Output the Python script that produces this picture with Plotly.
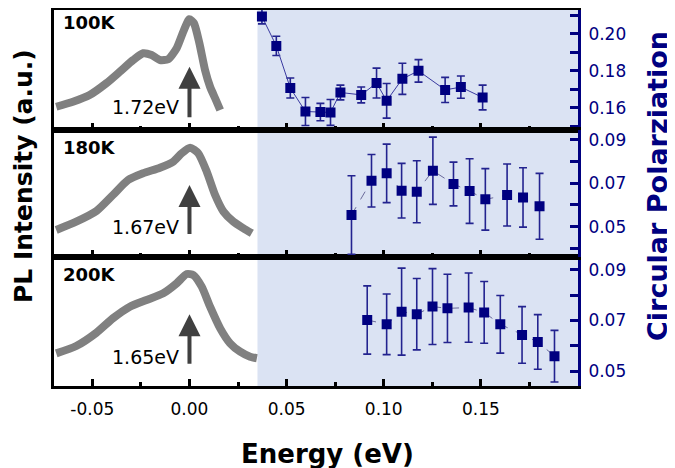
import plotly.graph_objects as go

# ---------------- data ----------------
X_TICKS = [-0.05, 0.00, 0.05, 0.10, 0.15]
X_TICK_LABELS = ["-0.05", "0.00", "0.05", "0.10", "0.15"]
X_MINOR = [-0.025, 0.025, 0.075, 0.125, 0.175]

# PL spectra (normalised intensity)
PL100_E = [-0.0686, -0.0600, -0.0514, -0.0428, -0.0359, -0.0290, -0.0239, -0.0195, -0.0152, -0.0110,
           -0.0066, -0.0032, -0.0001, 0.0023, 0.0051, 0.0080, 0.0106, 0.0132, 0.0158]
PL100_I = [0.186, 0.226, 0.280, 0.374, 0.466, 0.560, 0.614, 0.600, 0.560, 0.566,
           0.654, 0.786, 0.886, 0.854, 0.694, 0.480, 0.346, 0.254, 0.160]

PL180_E = [-0.0686, -0.0583, -0.0479, -0.0394, -0.0316, -0.0239, -0.0152, -0.0084, -0.0040, 0.0003,
           0.0045, 0.0089, 0.0132, 0.0175, 0.0226, 0.0278, 0.0321]
PL180_I = [0.213, 0.278, 0.362, 0.488, 0.606, 0.659, 0.703, 0.750, 0.817, 0.861,
           0.817, 0.672, 0.488, 0.357, 0.278, 0.226, 0.187]

PL200_E = [-0.0686, -0.0583, -0.0479, -0.0394, -0.0307, -0.0221, -0.0135, -0.0066, -0.0014, 0.0020,
           0.0063, 0.0106, 0.0158, 0.0209, 0.0261, 0.0312, 0.0347]
PL200_I = [0.253, 0.310, 0.413, 0.525, 0.615, 0.667, 0.719, 0.796, 0.868, 0.860,
           0.770, 0.615, 0.447, 0.331, 0.266, 0.227, 0.215]

# circular polarization
E100 = [0.0373, 0.0447, 0.0519, 0.0597, 0.0674, 0.0726, 0.0777, 0.0884, 0.0963, 0.1015,
        0.1096, 0.1179, 0.1316, 0.1397, 0.1509]
P100 = [0.2094, 0.1935, 0.1707, 0.1580, 0.1577, 0.1575, 0.1683, 0.1670, 0.1734, 0.1638,
        0.1757, 0.1800, 0.1697, 0.1712, 0.1656]
ERR100 = [0.0040, 0.0052, 0.0054, 0.0076, 0.0047, 0.0070, 0.0040, 0.0043, 0.0081, 0.0094,
          0.0084, 0.0061, 0.0068, 0.0060, 0.0067]

E180 = [0.0834, 0.0937, 0.1015, 0.1092, 0.1170, 0.1253, 0.1359, 0.1442, 0.1523, 0.1635, 0.1717, 0.1802]
P180 = [0.0554, 0.0712, 0.0746, 0.0666, 0.0661, 0.0758, 0.0697, 0.0664, 0.0626, 0.0646, 0.0635, 0.0594]
ERR180 = [0.0181, 0.0121, 0.0135, 0.0126, 0.0143, 0.0155, 0.0101, 0.0149, 0.0142, 0.0143, 0.0137, 0.0152]

E200 = [0.0915, 0.1015, 0.1092, 0.1170, 0.1251, 0.1328, 0.1437, 0.1517, 0.1600, 0.1712, 0.1793, 0.1879]
P200 = [0.0702, 0.0685, 0.0735, 0.0725, 0.0755, 0.0748, 0.0751, 0.0732, 0.0685, 0.0643, 0.0615, 0.0559]
ERR200 = [0.0135, 0.0120, 0.0172, 0.0141, 0.0150, 0.0135, 0.0137, 0.0122, 0.0114, 0.0112, 0.0108, 0.0102]

TEMPS = ["100K", "180K", "200K"]
PEAKS = ["1.72eV", "1.67eV", "1.65eV"]
CP_TICKS = [[0.16, 0.18, 0.20], [0.05, 0.07, 0.09], [0.05, 0.07, 0.09]]
CP_MINOR = [[0.15, 0.17, 0.19, 0.21], [0.04, 0.06, 0.08], [0.06, 0.08]]
CP_RANGES = [[0.148, 0.2132], [0.0360, 0.0946], [0.0441, 0.0951]]
PL_RANGES = [[0, 0.964], [0, 1], [0, 1]]
SHADE_START = 0.035

# ---------------- figure ----------------
OFF = 8  # page body margin
W, H = 675 - OFF, 468 - OFF


def px(x):
    return (x - OFF) / W


def py(y):
    return (H - (y - OFF)) / H


XL, XR = 53.5, 578.0
PANELS_PX = [(9.5, 130), (130, 257), (257, 386)]  # top, middle, bottom (screen px)
NAVY = "#000080"
EB = "#23238f"
GRAY = "#808080"
FONT = "DejaVu Sans"

fig = go.Figure()
xdom = [px(XL), px(XR)]

panels = [
    (PL100_E, PL100_I, E100, P100, ERR100, "solid", "#3a3aa0"),
    (PL180_E, PL180_I, E180, P180, ERR180, "dash", "#6a6a9a"),
    (PL200_E, PL200_I, E200, P200, ERR200, "dash", "#6a6a9a"),
]
arrow_tail = [0.09, 0.17, 0.16]
arrow_tip = [0.506, 0.567, 0.556]
label_y = [0.186, 0.239, 0.227]
label_top = [5, 130, 257]

for i, (ple, pli, e, p, err, dash, lc) in enumerate(panels):
    top, bot = PANELS_PX[i]
    ydom = [py(bot), min(1.0, py(top))]
    xn = "" if i == 2 else str(i + 2)
    xa = "x" + xn
    n1 = 2 * i + 1
    n2 = 2 * i + 2
    ya1 = "y" + ("" if n1 == 1 else str(n1))
    ya2 = "y" + str(n2)

    fig.add_trace(go.Scatter(x=ple, y=pli, mode="lines", xaxis=xa, yaxis=ya1,
                             line=dict(color=GRAY, width=8, shape="spline", smoothing=0.6),
                             showlegend=False, hoverinfo="skip"))
    fig.add_trace(go.Scatter(x=e, y=p, mode="lines+markers", xaxis=xa, yaxis=ya2,
                             line=dict(color=lc, width=1, dash=dash),
                             marker=dict(symbol="square", size=10, color=NAVY),
                             error_y=dict(type="data", array=err, visible=True,
                                          color=EB, thickness=1.6, width=4),
                             showlegend=False))

    xkey = "xaxis" + xn
    fig.layout[xkey] = dict(
        domain=xdom, anchor=ya1, range=[-0.07, 0.20],
        matches=None if i == 2 else "x",
        tickvals=X_TICKS, ticktext=X_TICK_LABELS,
        ticks="inside", ticklen=7, tickwidth=3, tickcolor="black",
        minor=dict(tickvals=X_MINOR, ticks="inside", ticklen=4, tickwidth=3, tickcolor="black"),
        showticklabels=(i == 2), tickfont=dict(family=FONT, size=17, color="black"),
        ticklabelstandoff=6,
        showline=True, linecolor="black", linewidth=3, mirror=True,
        showgrid=False, zeroline=False, automargin=False,
    )
    fig.layout["yaxis" + ("" if n1 == 1 else str(n1))] = dict(
        domain=ydom, anchor=xa, range=PL_RANGES[i], showticklabels=False, ticks="",
        showline=True, linecolor="black", linewidth=3,
        showgrid=False, zeroline=False, automargin=False,
    )
    fig.layout["yaxis" + str(n2)] = dict(
        overlaying=ya1, side="right", anchor=xa, range=CP_RANGES[i],
        tickvals=CP_TICKS[i], ticktext=["%.2f" % v for v in CP_TICKS[i]],
        ticks="inside", ticklen=8, tickwidth=3, tickcolor=NAVY,
        minor=dict(tickvals=CP_MINOR[i], ticks="inside", ticklen=8, tickwidth=3, tickcolor=NAVY),
        tickfont=dict(family=FONT, size=17, color=NAVY), ticklabelstandoff=4,
        showline=True, linecolor=NAVY, linewidth=3,
        showgrid=False, zeroline=False, automargin=False,
    )

    fig.add_shape(type="rect", xref=xa, yref=ya1 + " domain", x0=SHADE_START, x1=0.20, y0=0, y1=1,
                  fillcolor="#dbe3f3", line=dict(width=0), layer="below")

    fig.add_annotation(x=0, y=arrow_tip[i], ax=0, ay=arrow_tail[i], xref=xa, yref=ya1,
                       axref=xa, ayref=ya1, showarrow=True, arrowhead=2, arrowsize=1.1,
                       arrowwidth=4, arrowcolor="#404040", text="")
    fig.add_annotation(x=-0.0044, y=label_y[i], xref=xa, yref=ya1, text=PEAKS[i], showarrow=False,
                       xanchor="right", yanchor="middle",
                       font=dict(family=FONT, size=19, color="black"))
    fig.add_annotation(x=px(61), y=py(label_top[i] + 17), xref="paper", yref="paper",
                       text="<b>%s</b>" % TEMPS[i],
                       showarrow=False, xanchor="left", yanchor="middle",
                       font=dict(family=FONT, size=18, color="black"))

fig.add_annotation(x=px(327), y=py(454), xref="paper", yref="paper", text="<b>Energy (eV)</b>",
                   showarrow=False, xanchor="center", yanchor="middle",
                   font=dict(family=FONT, size=26, color="black"))
fig.add_annotation(x=px(23), y=py(176), xref="paper", yref="paper", text="<b>PL Intensity (a.u.)</b>",
                   showarrow=False, xanchor="center", yanchor="middle", textangle=-90,
                   font=dict(family=FONT, size=25, color="black"))
fig.add_annotation(x=px(657), y=py(186), xref="paper", yref="paper", text="<b>Circular Polarziation</b>",
                   showarrow=False, xanchor="center", yanchor="middle", textangle=-90,
                   font=dict(family=FONT, size=27, color=NAVY))

fig.update_layout(width=W, height=H, margin=dict(l=0, r=0, t=0, b=0),
                  paper_bgcolor="white", plot_bgcolor="rgba(0,0,0,0)", showlegend=False)

fig.write_html("out.html")
